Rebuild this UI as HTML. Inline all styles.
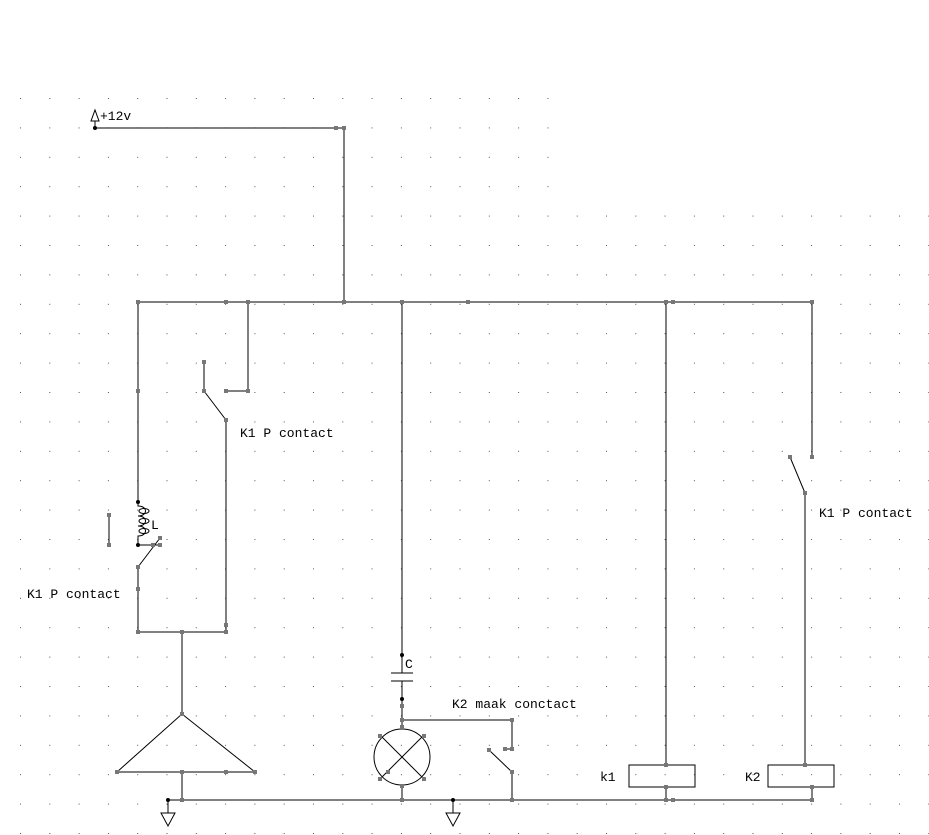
<!DOCTYPE html>
<html><head><meta charset="utf-8"><style>
html,body{margin:0;padding:0;background:#fff;}
svg{display:block;}
text{font-family:"Liberation Mono",monospace;font-size:13px;fill:#000;}
</style></head><body>
<svg width="929" height="835" viewBox="0 0 929 835" xmlns="http://www.w3.org/2000/svg">
<defs>
<pattern id="g" x="20" y="98" width="29.3" height="29.4" patternUnits="userSpaceOnUse">
<rect x="0" y="0" width="1" height="1" fill="#555"/>
</pattern>
</defs>
<rect x="15" y="93" width="545" height="742" fill="url(#g)"/>
<rect x="560" y="208" width="369" height="627" fill="url(#g)"/>
<g stroke="#000" stroke-width="1" fill="none" shape-rendering="crispEdges">
<polyline points="95,128 344,128 344,302"/>
<line x1="95" y1="128" x2="95" y2="121"/>
<line x1="138" y1="302" x2="812" y2="302"/>
<line x1="138" y1="302" x2="138" y2="502"/>
<line x1="138" y1="545" x2="160" y2="545"/>
<line x1="138" y1="567" x2="138" y2="632"/>
<line x1="109" y1="515" x2="109" y2="545"/>
<polyline points="138,632 227,632"/>
<polyline points="248,302 248,391 226,391"/>
<line x1="204" y1="362" x2="204" y2="391"/>
<line x1="226" y1="420" x2="226" y2="632"/>
<line x1="182" y1="632" x2="182" y2="714"/>
<line x1="117" y1="772" x2="255" y2="772"/>
<line x1="182" y1="772" x2="182" y2="800"/>
<line x1="168" y1="800" x2="812" y2="800"/>
<line x1="168" y1="800" x2="168" y2="813"/>
<line x1="453" y1="800" x2="453" y2="813"/>
<line x1="402" y1="302" x2="402" y2="673"/>
<line x1="391" y1="673" x2="413" y2="673"/>
<line x1="391" y1="681" x2="413" y2="681"/>
<line x1="402" y1="681" x2="402" y2="729"/>
<line x1="402" y1="786" x2="402" y2="800"/>
<polyline points="402,720 512,720 512,749 505,749"/>
<line x1="512" y1="772" x2="512" y2="800"/>
<line x1="666" y1="302" x2="666" y2="765"/>
<rect x="629" y="765" width="66" height="22"/>
<line x1="666" y1="787" x2="666" y2="800"/>
<line x1="812" y1="302" x2="812" y2="457"/>
<line x1="805" y1="493" x2="805" y2="765"/>
<rect x="768" y="765" width="66" height="22"/>
<line x1="812" y1="787" x2="812" y2="800"/>
</g>
<g stroke="#000" stroke-width="1" fill="none">
<polygon points="91,121 99,121 95,110"/>
<path d="M138,502 v4 c10,0 10,10 0,10 c10,0 10,10 0,10 c10,0 10,10 0,10 v9"/>
<ellipse cx="144" cy="511" rx="5" ry="2.5"/><ellipse cx="144" cy="521" rx="5" ry="2.5"/><ellipse cx="144" cy="531" rx="5" ry="2.5"/>
<line x1="138" y1="567" x2="160" y2="538"/>
<line x1="204" y1="391" x2="226" y2="420"/>
<polygon points="117,772 255,772 182,714"/>
<polygon points="161,813 175,813 168,826"/>
<polygon points="446,813 460,813 453,826"/>
<circle cx="402" cy="757" r="28"/>
<line x1="382" y1="737" x2="422" y2="777"/>
<line x1="422" y1="737" x2="382" y2="777"/>
<line x1="489" y1="750" x2="512" y2="772"/>
<line x1="790" y1="457" x2="805" y2="493"/>
</g>
<g fill="#000">
<circle cx="95" cy="128" r="2"/><circle cx="138" cy="502" r="2"/><circle cx="138" cy="545" r="2"/>
<circle cx="402" cy="655" r="2"/><circle cx="402" cy="699" r="2"/>
<circle cx="168" cy="800" r="2"/><circle cx="453" cy="800" r="2"/>
</g>
<g fill="#777">
<rect x="334" y="126" width="4" height="4"/><rect x="342" y="126" width="4" height="4"/>
<rect x="136" y="300" width="4" height="4"/><rect x="224" y="300" width="4" height="4"/><rect x="246" y="300" width="4" height="4"/>
<rect x="342" y="300" width="4" height="4"/><rect x="400" y="300" width="4" height="4"/><rect x="466" y="300" width="4" height="4"/>
<rect x="664" y="300" width="4" height="4"/><rect x="671" y="300" width="4" height="4"/><rect x="810" y="300" width="4" height="4"/>
<rect x="136" y="389" width="4" height="4"/><rect x="202" y="360" width="4" height="4"/><rect x="202" y="389" width="4" height="4"/>
<rect x="224" y="389" width="4" height="4"/><rect x="246" y="389" width="4" height="4"/><rect x="224" y="418" width="4" height="4"/>
<rect x="107" y="513" width="4" height="4"/><rect x="107" y="543" width="4" height="4"/>
<rect x="158" y="536" width="4" height="4"/><rect x="151" y="543" width="4" height="4"/><rect x="158" y="543" width="4" height="4"/>
<rect x="136" y="565" width="4" height="4"/><rect x="136" y="587" width="4" height="4"/>
<rect x="136" y="630" width="4" height="4"/><rect x="180" y="630" width="4" height="4"/><rect x="224" y="630" width="4" height="4"/><rect x="224" y="623" width="4" height="4"/>
<rect x="180" y="712" width="4" height="4"/><rect x="115" y="770" width="4" height="4"/><rect x="180" y="770" width="4" height="4"/>
<rect x="224" y="770" width="4" height="4"/><rect x="253" y="770" width="4" height="4"/><rect x="180" y="798" width="4" height="4"/>
<rect x="400" y="704" width="4" height="4"/><rect x="400" y="718" width="4" height="4"/><rect x="400" y="725" width="4" height="4"/>
<rect x="378" y="734" width="4" height="4"/><rect x="422" y="734" width="4" height="4"/><rect x="378" y="777" width="4" height="4"/><rect x="422" y="777" width="4" height="4"/>
<rect x="386" y="770" width="4" height="4"/><rect x="400" y="784" width="4" height="4"/><rect x="400" y="798" width="4" height="4"/>
<rect x="510" y="718" width="4" height="4"/><rect x="503" y="747" width="4" height="4"/><rect x="510" y="747" width="4" height="4"/>
<rect x="487" y="748" width="4" height="4"/><rect x="510" y="770" width="4" height="4"/><rect x="510" y="798" width="4" height="4"/>
<rect x="664" y="763" width="4" height="4"/><rect x="664" y="785" width="4" height="4"/><rect x="664" y="798" width="4" height="4"/><rect x="671" y="798" width="4" height="4"/>
<rect x="810" y="455" width="4" height="4"/><rect x="788" y="455" width="4" height="4"/><rect x="803" y="491" width="4" height="4"/>
<rect x="803" y="763" width="4" height="4"/><rect x="810" y="785" width="4" height="4"/><rect x="810" y="798" width="4" height="4"/>
</g>
<text x="100" y="120">+12v</text>
<text x="240" y="437">K1 P contact</text>
<text x="27" y="598">K1 P contact</text>
<text x="819" y="517">K1 P contact</text>
<text x="452" y="708">K2 maak conctact</text>
<text x="405" y="668">C</text>
<text x="151" y="529">L</text>
<text x="600" y="781">k1</text>
<text x="745" y="781">K2</text>
</svg>
</body></html>
